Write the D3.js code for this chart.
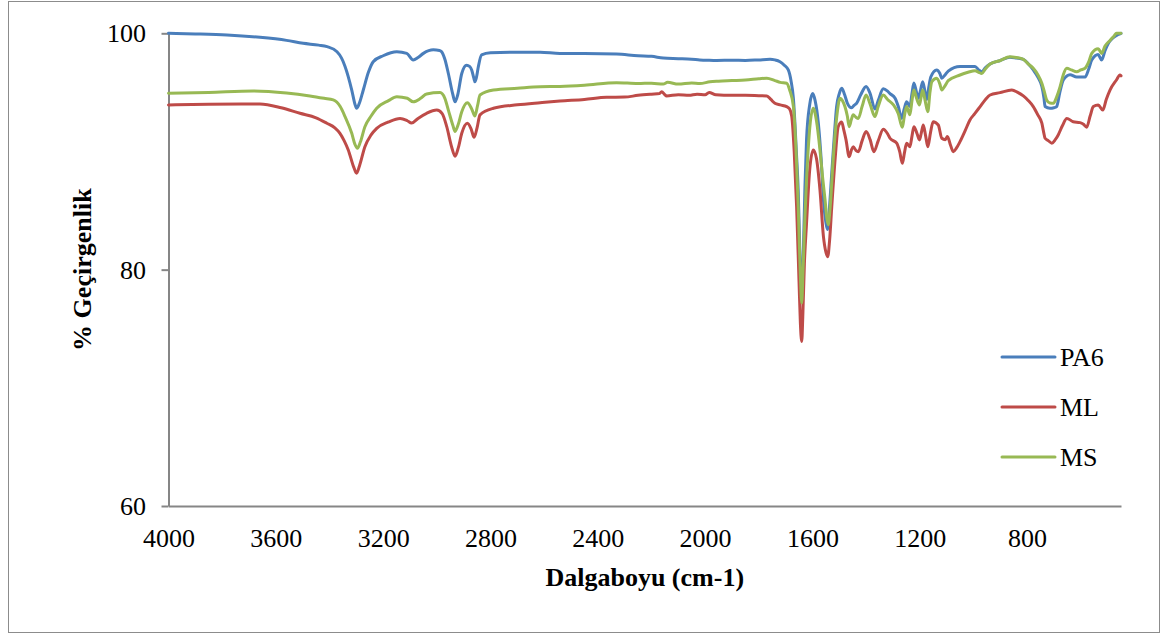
<!DOCTYPE html>
<html>
<head>
<meta charset="utf-8">
<script src="https://cdn.jsdelivr.net/npm/d3@7"></script>
<style>
  body { margin: 0; background: #fff; }
  svg { display: block; }
</style>
</head>
<body>
<svg id="chart" width="1162" height="639"></svg>
<script>
// FTIR spectra: wavenumber (cm-1) vs. % transmittance
const seriesNames = ["PA6", "ML", "MS"];
const seriesColors = ["#4a7ebb", "#be4b48", "#98b954"];

const pa6 = [
  [4000,100.0],[3900,99.95],[3782,99.86],[3659,99.66],[3560,99.4],[3498,99.15],[3440,99.0],[3409,98.87],
  [3372,98.44],[3355,97.9],[3342,97.2],[3317,95.2],[3305,94.0],[3299,93.66],[3290,94.0],[3274,95.2],
  [3255,96.7],[3237,97.6],[3200,98.1],[3149,98.44],[3112,98.3],[3088,97.74],[3070,97.95],[3050,98.3],
  [3013,98.6],[2990,98.55],[2982,98.44],[2970,97.8],[2957,96.6],[2940,94.8],[2932,94.2],[2922,94.8],
  [2907,96.6],[2889,97.3],[2878,97.2],[2870,96.9],[2862,96.2],[2858,95.9],[2852,96.3],[2845,97.2],
  [2833,98.17],[2800,98.35],[2700,98.4],[2615,98.4],[2541,98.3],[2450,98.3],[2330,98.25],[2250,98.1],
  [2200,98.05],[2156,97.9],[2100,97.85],[2050,97.8],[2020,97.75],[1990,97.72],[1957,97.7],[1900,97.72],
  [1850,97.7],[1800,97.75],[1758,97.8],[1740,97.75],[1721,97.6],[1705,97.3],[1690,96.9],[1680,96.0],
  [1671,94.5],[1660,90.0],[1653,86.7],[1645,80.0],[1640,77.5],[1635,80.5],[1628,87.0],[1622,91.0],
  [1610,94.0],[1599,94.9],[1590,94.3],[1578,92.4],[1568,89.5],[1559,85.9],[1550,84.0],[1544,83.4],
  [1538,84.8],[1528,88.2],[1518,91.5],[1510,93.8],[1500,94.9],[1491,95.35],[1480,94.8],[1470,94.1],
  [1454,93.7],[1445,93.9],[1435,94.1],[1420,94.8],[1400,95.5],[1385,94.9],[1367,93.6],[1355,94.3],
  [1336,95.3],[1320,95.1],[1311,94.9],[1292,94.5],[1280,93.8],[1267,92.8],[1258,93.6],[1249,94.2],
  [1237,93.8],[1229,94.9],[1222,95.8],[1212,95.0],[1205,94.5],[1197,95.2],[1189,95.9],[1180,95.0],
  [1174,94.4],[1166,95.5],[1159,96.3],[1137,96.9],[1125,96.6],[1118,96.2],[1105,96.5],[1094,96.8],
  [1050,97.2],[1020,97.2],[994,97.2],[980,96.9],[969,96.75],[955,97.1],[938,97.4],[900,97.7],
  [864,97.97],[840,97.9],[814,97.8],[795,97.4],[777,96.9],[760,96.3],[745,95.5],[737,94.5],
  [733,93.8],[715,93.65],[700,93.7],[690,93.8],[678,95.0],[665,96.05],[640,96.5],[615,96.3],
  [584,96.3],[570,97.0],[559,97.74],[535,98.2],[522,97.74],[510,98.5],[497,99.15],[480,99.6],
  [460,99.9],[450,100.0]
];

const ml = [
  [4000,93.94],[3850,94.0],[3659,94.02],[3580,93.7],[3510,93.23],[3450,92.85],[3410,92.39],[3380,92.0],
  [3361,91.54],[3345,90.9],[3330,90.13],[3310,88.7],[3299,88.16],[3288,88.8],[3268,90.4],[3245,91.4],
  [3224,91.96],[3180,92.5],[3137,92.8],[3110,92.6],[3094,92.4],[3070,92.8],[3038,93.23],[3000,93.5],
  [2980,93.2],[2963,92.1],[2945,90.4],[2932,89.6],[2920,90.3],[2907,91.54],[2886,92.39],[2872,91.9],
  [2861,91.2],[2850,92.0],[2839,93.1],[2789,93.66],[2700,93.95],[2615,94.13],[2541,94.27],[2450,94.4],
  [2367,94.58],[2300,94.6],[2250,94.75],[2200,94.85],[2170,94.9],[2162,95.06],[2150,94.8],[2144,94.7],
  [2100,94.8],[2060,94.75],[2030,94.85],[2000,94.8],[1985,95.0],[1960,94.8],[1900,94.75],[1850,94.75],
  [1800,94.72],[1770,94.7],[1755,94.4],[1740,94.08],[1720,93.94],[1696,93.8],[1685,93.6],[1677,92.95],
  [1668,90.0],[1659,85.33],[1650,79.0],[1645,75.5],[1640,73.92],[1636,76.0],[1630,80.5],[1622,83.93],
  [1610,88.5],[1597,90.13],[1585,89.4],[1572,86.75],[1559,82.8],[1550,81.5],[1543,81.1],[1536,82.5],
  [1528,85.33],[1515,89.5],[1504,92.1],[1491,92.5],[1483,91.8],[1475,91.0],[1463,89.56],[1455,90.1],
  [1448,90.4],[1438,90.1],[1429,89.98],[1415,90.9],[1400,91.68],[1385,91.0],[1371,89.98],[1355,90.9],
  [1336,91.88],[1320,91.5],[1311,91.12],[1286,90.7],[1275,90.0],[1265,89.0],[1257,89.9],[1249,90.7],
  [1237,90.4],[1229,91.3],[1222,92.1],[1210,91.5],[1201,90.98],[1194,91.6],[1187,92.24],[1178,91.3],
  [1170,90.4],[1160,91.6],[1150,92.52],[1131,92.24],[1118,91.12],[1105,91.0],[1097,91.26],[1085,90.5],
  [1075,89.98],[1063,90.3],[1050,90.83],[1030,91.8],[1013,92.67],[995,93.2],[975,93.8],[955,94.4],
  [938,94.78],[901,94.98],[857,95.2],[835,95.0],[814,94.7],[795,94.3],[777,93.8],[760,93.1],
  [745,92.39],[738,91.6],[733,91.12],[720,90.9],[708,90.7],[695,91.0],[684,91.4],[668,92.2],
  [652,92.8],[628,92.52],[603,92.44],[590,92.3],[578,92.05],[565,93.0],[553,93.8],[535,93.94],
  [518,93.5],[505,94.4],[491,95.2],[467,96.05],[454,96.47],[450,96.4]
];

const ms = [
  [4000,94.93],[3850,95.0],[3684,95.12],[3560,94.95],[3473,94.7],[3420,94.5],[3386,94.36],[3360,93.8],
  [3342,92.95],[3317,91.54],[3305,90.6],[3296,90.27],[3285,90.8],[3268,92.1],[3245,93.0],[3224,93.66],
  [3180,94.3],[3149,94.64],[3110,94.5],[3088,94.2],[3060,94.5],[3038,94.87],[2988,94.98],[2970,94.5],
  [2957,93.5],[2940,92.2],[2932,91.7],[2920,92.3],[2907,93.37],[2886,94.13],[2870,93.6],[2858,93.0],
  [2848,93.9],[2839,94.78],[2789,95.2],[2700,95.35],[2615,95.48],[2541,95.5],[2450,95.6],[2330,95.82],
  [2250,95.75],[2200,95.78],[2156,95.7],[2140,95.85],[2100,95.7],[2050,95.8],[2020,95.75],[1982,95.9],
  [1950,95.95],[1900,96.0],[1850,96.05],[1800,96.15],[1770,96.2],[1740,96.0],[1720,95.85],[1696,95.77],
  [1685,95.2],[1671,93.8],[1660,89.5],[1653,85.33],[1645,79.5],[1640,77.17],[1635,80.0],[1628,84.5],
  [1622,87.6],[1610,92.0],[1597,93.66],[1585,92.6],[1572,90.13],[1563,88.0],[1553,85.9],[1546,84.3],
  [1541,83.8],[1535,85.0],[1522,89.56],[1510,92.8],[1497,94.5],[1488,94.3],[1479,93.8],[1470,93.0],
  [1463,92.1],[1455,92.7],[1448,93.1],[1438,92.9],[1429,92.8],[1415,93.8],[1400,94.78],[1385,94.0],
  [1367,92.95],[1355,93.8],[1336,94.78],[1320,94.4],[1298,93.94],[1280,93.2],[1265,92.05],[1258,92.9],
  [1249,93.8],[1237,93.1],[1229,94.3],[1222,95.2],[1212,94.5],[1201,93.94],[1195,94.6],[1189,95.2],
  [1180,94.3],[1170,93.37],[1162,95.0],[1155,95.9],[1137,96.2],[1125,95.7],[1118,95.2],[1105,95.6],
  [1094,95.99],[1050,96.47],[1020,96.7],[994,96.84],[980,96.7],[969,96.6],[955,97.0],[938,97.4],
  [900,97.7],[864,98.02],[840,97.95],[814,97.8],[795,97.4],[777,97.04],[760,96.5],[745,95.77],
  [735,95.0],[727,94.36],[715,94.1],[702,94.08],[690,94.6],[677,95.48],[665,96.5],[652,97.04],
  [635,96.9],[615,96.75],[600,96.9],[584,97.04],[570,97.6],[559,98.3],[535,98.7],[522,98.3],
  [510,98.9],[491,99.4],[475,99.8],[467,100.0],[450,100.0]
];

const xTicks = [4000, 3600, 3200, 2800, 2400, 2000, 1600, 1200, 800];
const yTicks = [60, 80, 100];
const xTitle = "Dalgaboyu (cm-1)";
const yTitle = "% Geçirgenlik";

const series = [pa6, ml, ms];

const font = "'Liberation Serif', 'Times New Roman', serif";
const axisColor = "#868686";

const svg = d3.select("#chart");

// outer chart frame
svg.append("rect")
  .attr("x", 8.5).attr("y", 1.5)
  .attr("width", 1151).attr("height", 631)
  .attr("fill", "#fff")
  .attr("stroke", "#8c8c8c")
  .attr("stroke-width", 1);

const x = d3.scaleLinear().domain([4000, 450]).range([168.5, 1121]);
const y = d3.scaleLinear().domain([60, 100]).range([506, 33.3]);

// y axis
const yAxis = svg.append("g")
  .attr("transform", `translate(${x.range()[0]},0)`)
  .call(d3.axisLeft(y).tickValues(yTicks).tickSize(7).tickSizeOuter(0).tickPadding(15.5));
yAxis.select(".domain").attr("stroke", axisColor).attr("stroke-width", 2);
yAxis.selectAll(".tick line").attr("stroke", axisColor).attr("stroke-width", 2);
yAxis.selectAll(".tick text")
  .attr("font-family", font).attr("font-size", 26).attr("fill", "#000")
  .attr("dy", "0.33em");

// x axis
const xAxis = svg.append("g")
  .attr("transform", `translate(0,${y.range()[0]})`)
  .call(d3.axisBottom(x).tickValues(xTicks).tickSize(0).tickSizeOuter(0).tickFormat(d3.format("d")));
xAxis.select(".domain").attr("stroke", axisColor).attr("stroke-width", 2);
xAxis.selectAll(".tick text")
  .attr("font-family", font).attr("font-size", 26).attr("fill", "#000")
  .attr("y", 41).attr("dy", 0);

// axis titles
svg.append("text")
  .attr("x", (x.range()[0] + x.range()[1]) / 2).attr("y", 586)
  .attr("text-anchor", "middle")
  .attr("font-family", font).attr("font-size", 26).attr("font-weight", "bold")
  .text(xTitle);

svg.append("text")
  .attr("transform", `translate(91,${(y.range()[0] + y.range()[1]) / 2}) rotate(-90)`)
  .attr("text-anchor", "middle")
  .attr("font-family", font).attr("font-size", 26).attr("font-weight", "bold")
  .text(yTitle);

// spectra
const line = d3.line()
  .x(d => x(d[0]))
  .y(d => y(d[1]))
  .curve(d3.curveMonotoneX);

svg.append("g").selectAll("path")
  .data(series)
  .join("path")
  .attr("d", line)
  .attr("fill", "none")
  .attr("stroke", (d, i) => seriesColors[i])
  .attr("stroke-width", 3)
  .attr("stroke-linejoin", "round")
  .attr("stroke-linecap", "round");

// legend
const legend = svg.append("g");
const legendY = [357, 407, 457];
seriesNames.forEach((name, i) => {
  legend.append("line")
    .attr("x1", 1002).attr("x2", 1055)
    .attr("y1", legendY[i]).attr("y2", legendY[i])
    .attr("stroke", seriesColors[i]).attr("stroke-width", 3)
    .attr("stroke-linecap", "round");
  legend.append("text")
    .attr("x", 1060).attr("y", legendY[i]).attr("dy", "0.36em")
    .attr("font-family", font).attr("font-size", 26).attr("fill", "#000")
    .text(name);
});
</script>
</body>
</html>
